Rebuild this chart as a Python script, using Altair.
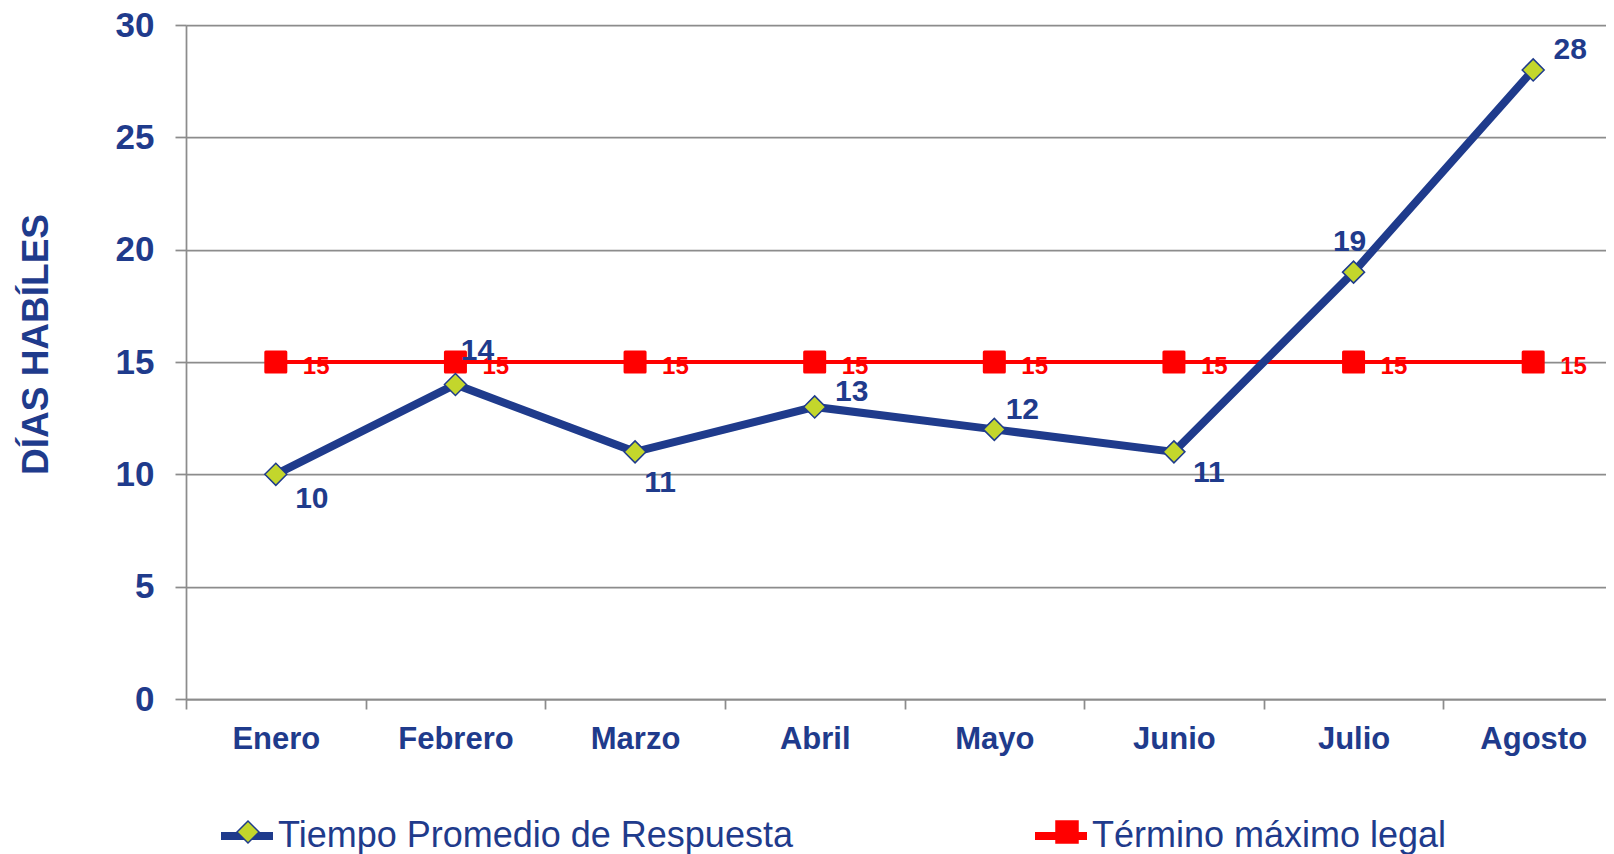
import altair as alt
import pandas as pd

# ---------------- datos ----------------
meses = ["Enero", "Febrero", "Marzo", "Abril", "Mayo", "Junio", "Julio", "Agosto"]
tiempo_promedio = [10, 14, 11, 13, 12, 11, 19, 28]
termino_legal = [15, 15, 15, 15, 15, 15, 15, 15]
series = ["Tiempo Promedio de Respuesta", "Término máximo legal"]
y_ticks = [0, 5, 10, 15, 20, 25, 30]

# ---------------- estilo ----------------
AZUL = "#1F3B8C"
LIMA = "#C3D62C"
ROJO = "#FF0000"
GRIS = "#8C8C8C"
FUENTE = "Liberation Sans"

filas = []
for m, v in zip(meses, tiempo_promedio):
    filas.append({"mes": m, "valor": v, "serie": series[0]})
for m, v in zip(meses, termino_legal):
    filas.append({"mes": m, "valor": v, "serie": series[1]})
df = pd.DataFrame(filas)
df["serie_linea"] = df["serie"]

x = alt.X(
    "mes:N",
    sort=meses,
    scale=alt.Scale(range=[0, 1437], paddingInner=0, paddingOuter=0),
    axis=alt.Axis(
        title=None, labelAngle=0, labelFont=FUENTE, labelFontSize=31,
        labelFontWeight="bold", labelColor=AZUL, labelPadding=15,
        tickSize=10, tickColor=GRIS, tickWidth=1.75, tickBand="extent",
        domainColor=GRIS, domainWidth=1.75, grid=False,
    ),
)
y = alt.Y(
    "valor:Q",
    scale=alt.Scale(domain=[0, 30], nice=False, zero=True),
    axis=alt.Axis(
        values=y_ticks, title="DÍAS HABÍLES", titleFont=FUENTE, titleFontSize=37,
        titleFontWeight="bold", titleColor=AZUL, titleAngle=270, titleX=-139,
        titleY=319, titleAlign="center", titleBaseline="alphabetic",
        labelFont=FUENTE, labelFontSize=35, labelFontWeight="bold",
        labelColor=AZUL, labelPadding=21, tickSize=11, tickColor=GRIS,
        tickWidth=1.75, domainColor=GRIS, domainWidth=1.75,
        gridColor=GRIS, gridWidth=1.75,
    ),
)

leg_linea = alt.Legend(
    title=None, orient="none", legendX=31, legendY=781, direction="horizontal",
    columns=2, columnPadding=226, symbolType="stroke", symbolSize=2704,
    symbolStrokeWidth=8, labelFont=FUENTE, labelFontSize=36, labelColor=AZUL,
    labelOffset=1, labelLimit=2000, padding=0, zindex=0,
)
leg_puntos = alt.Legend(
    title=None, orient="none", legendX=31, legendY=789, direction="horizontal",
    columns=2, columnPadding=226, symbolSize=484, symbolStrokeWidth=1.5,
    symbolOffset=13, labelFont=FUENTE, labelFontSize=36, labelOpacity=0,
    labelOffset=29, labelLimit=2000, padding=0, zindex=1,
)

color_linea = alt.Color("serie_linea:N", scale=alt.Scale(range=[AZUL, ROJO]), legend=leg_linea)
enc_puntos = dict(
    shape=alt.Shape("serie:N", scale=alt.Scale(domain=series, range=["diamond", "square"]), legend=leg_puntos),
    fill=alt.Fill("serie:N", scale=alt.Scale(domain=series, range=[LIMA, ROJO]), legend=leg_puntos),
    stroke=alt.Stroke("serie:N", scale=alt.Scale(domain=series, range=[AZUL, ROJO]), legend=leg_puntos),
)

base = alt.Chart(df)
azul = base.transform_filter(alt.datum.serie == series[0])
roja = base.transform_filter(alt.datum.serie == series[1])

linea_roja = roja.mark_line(strokeWidth=4).encode(x=x, y=y, color=color_linea)
cuadros = roja.mark_point(filled=True, size=400, strokeWidth=3, strokeJoin="round", opacity=1).encode(x=x, y=y, **enc_puntos)
texto_rojo = roja.mark_text(
    align="left", baseline="middle", dx=27, dy=5, font=FUENTE, fontSize=24,
    fontWeight="bold", color=ROJO,
).encode(x=x, y=y, text="valor:Q")

linea_azul = azul.mark_line(strokeWidth=8).encode(x=x, y=y, color=color_linea)
rombos = azul.mark_point(filled=True, size=484, strokeWidth=1.5, opacity=1).encode(x=x, y=y, **enc_puntos)

# desplazamiento de cada etiqueta azul respecto a su punto (como en el original)
desplazamientos = {
    "Enero": (36, 25), "Febrero": (22, -33), "Marzo": (25, 31), "Abril": (37, -15),
    "Mayo": (28, -19), "Junio": (35, 21), "Julio": (-4, -30), "Agosto": (37, -20),
}
textos_azules = []
for mes, (ddx, ddy) in desplazamientos.items():
    textos_azules.append(
        azul.transform_filter(alt.datum.mes == mes)
        .mark_text(align="center", baseline="middle", dx=ddx, dy=ddy, font=FUENTE,
                   fontSize=30, fontWeight="bold", color=AZUL)
        .encode(x=x, y=y, text="valor:Q")
    )

chart = alt.layer(
    linea_roja, cuadros, texto_rojo, linea_azul, rombos, *textos_azules
).properties(
    width=1420, height=674,
    autosize=alt.AutoSizeParams(type="none"),
    padding={"left": 178, "top": 17, "right": 0, "bottom": 158},
).configure_view(stroke=None).configure(font=FUENTE)

chart.save("out.html", embed_options={"renderer": "svg", "actions": False})
